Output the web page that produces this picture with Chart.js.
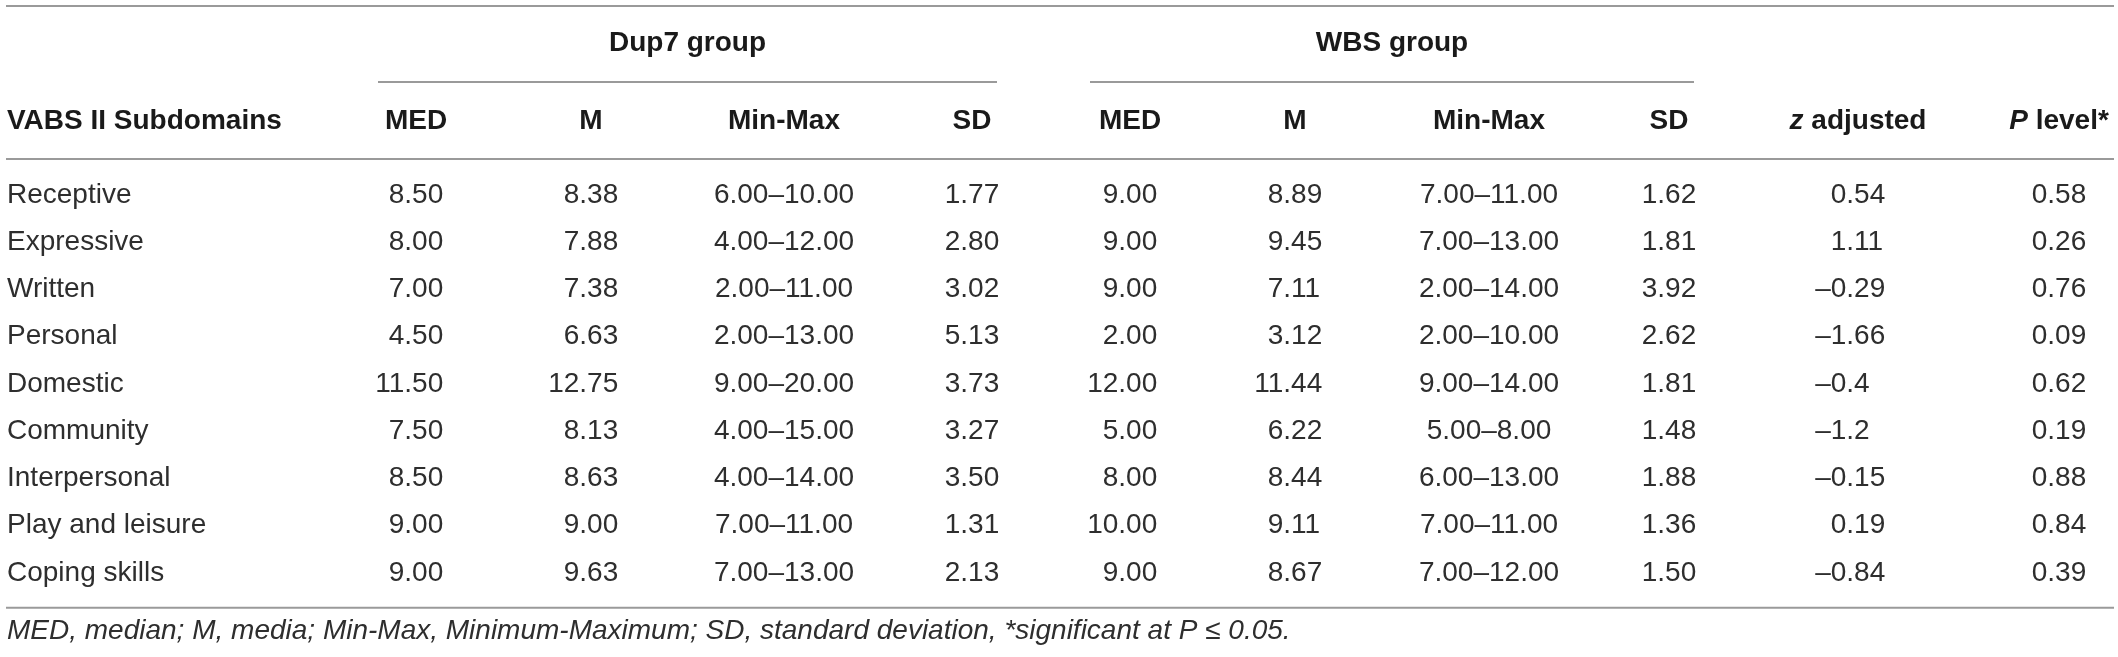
<!DOCTYPE html>
<html lang="en">
<head>
  <meta charset="UTF-8" />
  <title>VABS II Subdomains</title>
  <script src="https://cdn.jsdelivr.net/npm/chart.js"></script>
  <style>
    html, body { margin: 0; padding: 0; background: #fff; }
    .wrap { width: 2118px; height: 657px; position: relative; }
  </style>
</head>
<body>
<div class="wrap">
  <canvas id="tableChart"></canvas>
</div>
<script>
  // table data
  const subdomains = ['Receptive', 'Expressive', 'Written', 'Personal', 'Domestic',
    'Community', 'Interpersonal', 'Play and leisure', 'Coping skills'];

  const dupMed  = [8.50, 8.00, 7.00, 4.50, 11.50, 7.50, 8.50, 9.00, 9.00];
  const dupMean = [8.38, 7.88, 7.38, 6.63, 12.75, 8.13, 8.63, 9.00, 9.63];
  const dupMin  = [6, 4, 2, 2, 9, 4, 4, 7, 7];
  const dupMax  = [10, 12, 11, 13, 20, 15, 14, 11, 13];
  const dupSd   = [1.77, 2.80, 3.02, 5.13, 3.73, 3.27, 3.50, 1.31, 2.13];

  const wbsMed  = [9.00, 9.00, 9.00, 2.00, 12.00, 5.00, 8.00, 10.00, 9.00];
  const wbsMean = [8.89, 9.45, 7.11, 3.12, 11.44, 6.22, 8.44, 9.11, 8.67];
  const wbsMin  = [7, 7, 2, 2, 9, 5, 6, 7, 7];
  const wbsMax  = [11, 13, 14, 10, 14, 8, 13, 11, 12];
  const wbsSd   = [1.62, 1.81, 3.92, 2.62, 1.81, 1.48, 1.88, 1.36, 1.50];

  const zAdjusted = [0.54, 1.11, -0.29, -1.66, -0.4, -1.2, -0.15, 0.19, -0.84];
  const pLevel    = [0.58, 0.26, 0.76, 0.09, 0.62, 0.19, 0.88, 0.84, 0.39];

  const groupLabels = ['Dup7 group', 'WBS group'];
  const footnote = 'MED, median; M, media; Min-Max, Minimum-Maximum; SD, standard deviation, *significant at P \u2264 0.05.';

  // layout (pixel units on the x scale)
  const W = 2118, H = 657;
  const ROW0 = 195, ROWH = 47.25;
  const colX = { dupMed: 416, dupMean: 591, dupRange: 784, dupSd: 972,
                 wbsMed: 1130, wbsMean: 1295, wbsRange: 1489, wbsSd: 1669,
                 z: 1858, p: 2059 };
  const groupSpans = [[378, 997], [1090, 1694]];

  const fmt2 = v => v.toFixed(2);
  const fmtZ = v => (v < 0 ? '\u2013' : '') + String(Math.abs(v));
  const fmtRange = (a, b) => a.toFixed(2) + '\u2013' + b.toFixed(2);

  const columns = [
    { key: 'dupMed',   head: 'MED',     cells: dupMed.map(fmt2),  align: 'dec' },
    { key: 'dupMean',  head: 'M',       cells: dupMean.map(fmt2), align: 'dec' },
    { key: 'dupRange', head: 'Min-Max', cells: dupMin.map((m, i) => fmtRange(m, dupMax[i])), align: 'center' },
    { key: 'dupSd',    head: 'SD',      cells: dupSd.map(fmt2),   align: 'dec' },
    { key: 'wbsMed',   head: 'MED',     cells: wbsMed.map(fmt2),  align: 'dec' },
    { key: 'wbsMean',  head: 'M',       cells: wbsMean.map(fmt2), align: 'dec' },
    { key: 'wbsRange', head: 'Min-Max', cells: wbsMin.map((m, i) => fmtRange(m, wbsMax[i])), align: 'center' },
    { key: 'wbsSd',    head: 'SD',      cells: wbsSd.map(fmt2),   align: 'dec' },
    { key: 'z',        head: [['z', true], [' adjusted', false]], cells: zAdjusted.map(fmtZ), align: 'dec' },
    { key: 'p',        head: [['P', true], [' level*', false]],   cells: pLevel.map(fmt2), align: 'dec' }
  ];

  const FONT = '"Liberation Sans", Arial, sans-serif';
  const HEAD_TEXT = '#1a1a1a';
  const BODY_TEXT = '#2e2e2e';
  const RULE = '#9a9a9a';

  const tablePlugin = {
    id: 'tableText',
    afterDatasetsDraw(chart) {
      const ctx = chart.ctx;
      const xs = chart.scales.x;
      const ys = chart.scales.y;
      const area = chart.chartArea;
      const headY = area.top - 50;
      const ruleTop = 6, groupY = 43, groupRule = 82, headRule = 159;
      const bottomRule = area.bottom + 11;

      ctx.save();
      // rules
      ctx.strokeStyle = RULE;
      ctx.lineWidth = 2;
      const hline = (x1, x2, y) => { ctx.beginPath(); ctx.moveTo(x1, y); ctx.lineTo(x2, y); ctx.stroke(); };
      hline(6, W - 4, ruleTop);
      hline(6, W - 4, headRule);
      hline(6, W - 4, bottomRule);
      groupSpans.forEach(s => hline(xs.getPixelForValue(s[0]), xs.getPixelForValue(s[1]), groupRule));

      ctx.fillStyle = HEAD_TEXT;
      ctx.textBaseline = 'middle';

      // group titles
      ctx.font = 'bold 28px ' + FONT;
      ctx.textAlign = 'center';
      groupLabels.forEach((g, i) => {
        const c = (xs.getPixelForValue(groupSpans[i][0]) + xs.getPixelForValue(groupSpans[i][1])) / 2;
        ctx.fillText(g, c, groupY);
      });

      // header row
      ctx.textAlign = 'left';
      ctx.fillText('VABS II Subdomains', 7, headY);
      columns.forEach(col => {
        const cx = xs.getPixelForValue(colX[col.key]);
        const parts = Array.isArray(col.head) ? col.head : [[col.head, false]];
        let total = 0;
        parts.forEach(p => { ctx.font = (p[1] ? 'italic ' : '') + 'bold 28px ' + FONT; total += ctx.measureText(p[0]).width; });
        let x = cx - total / 2;
        ctx.textAlign = 'left';
        parts.forEach(p => {
          ctx.font = (p[1] ? 'italic ' : '') + 'bold 28px ' + FONT;
          ctx.fillText(p[0], x, headY);
          x += ctx.measureText(p[0]).width;
        });
      });

      // body cells, positioned from the dataset elements
      ctx.font = '28px ' + FONT;
      ctx.fillStyle = BODY_TEXT;
      subdomains.forEach((s, i) => {
        ctx.textAlign = 'left';
        ctx.fillText(s, 7, ys.getPixelForValue(i));
      });
      columns.forEach((col, d) => {
        const meta = chart.getDatasetMeta(d);
        meta.data.forEach((pt, i) => {
          const txt = col.cells[i];
          if (col.align === 'center') {
            ctx.textAlign = 'center';
            ctx.fillText(txt, pt.x, pt.y);
          } else {
            // align on the decimal point, a "0.00" cell is centred on the column
            const anchor = pt.x - ctx.measureText('0.00').width / 2 + ctx.measureText('0').width;
            const dot = txt.indexOf('.');
            ctx.textAlign = 'right';
            ctx.fillText(txt.slice(0, dot), anchor, pt.y);
            ctx.textAlign = 'left';
            ctx.fillText(txt.slice(dot), anchor, pt.y);
          }
        });
      });

      // footnote
      ctx.font = 'italic 28px ' + FONT;
      ctx.textAlign = 'left';
      ctx.fillText(footnote, 7, bottomRule + 24);
      ctx.restore();
    }
  };

  const datasets = columns.map(col => ({
    label: col.key,
    data: subdomains.map(s => ({ x: colX[col.key], y: s })),
    pointRadius: 0,
    pointHoverRadius: 0
  }));

  new Chart(document.getElementById('tableChart'), {
    type: 'scatter',
    data: { datasets },
    options: {
      responsive: true,
      maintainAspectRatio: false,
      devicePixelRatio: 1,
      animation: false,
      events: [],
      layout: {
        padding: { top: ROW0 - ROWH / 2, bottom: H - (ROW0 + 8.5 * ROWH), left: 0, right: 0 }
      },
      scales: {
        x: { type: 'linear', min: 0, max: W, display: false },
        y: { type: 'category', labels: subdomains, offset: true, display: false }
      },
      plugins: {
        legend: { display: false },
        tooltip: { enabled: false }
      }
    },
    plugins: [tablePlugin]
  });
</script>
</body>
</html>
